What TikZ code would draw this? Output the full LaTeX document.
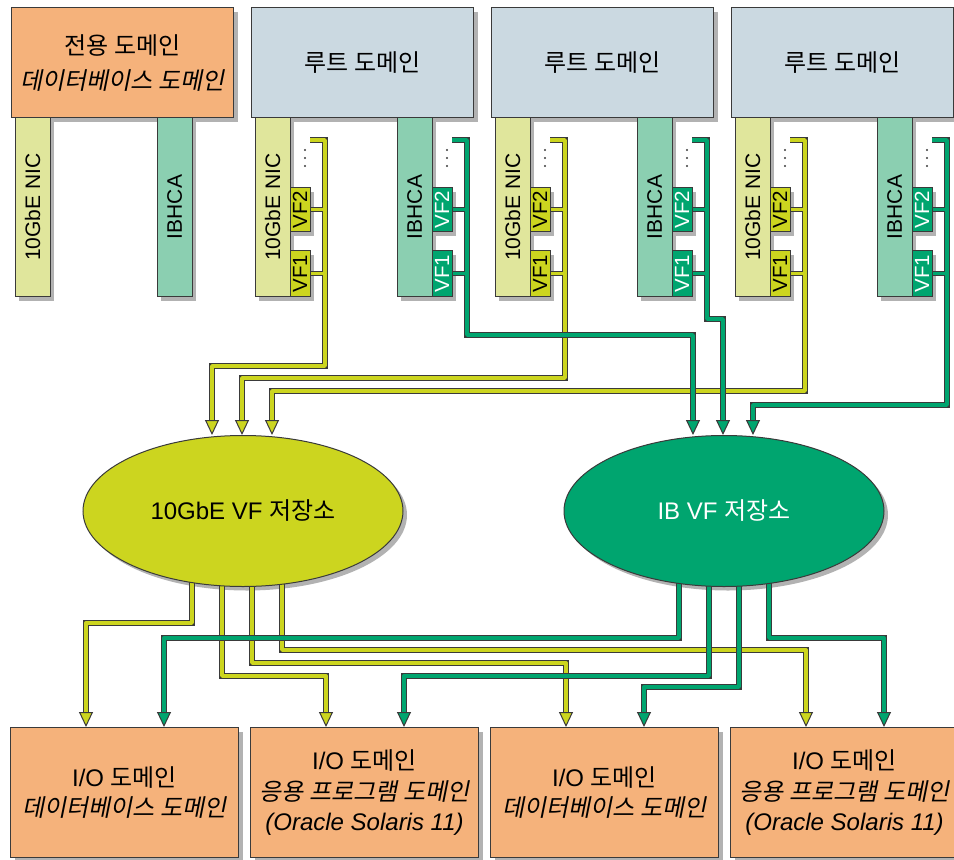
\documentclass[tikz,border=0pt]{standalone}
\usepackage{fontspec}
\setmainfont{Liberation Sans}
\newfontfamily\kr{Noto Sans CJK KR}
\newfontfamily\krit[FakeSlant=0.2]{Noto Sans CJK KR}
\usepackage{graphicx}
\usetikzlibrary{
  calc, % Koordinatenrechnung
  shapes.geometric, % Ellipsen
  shadows, % Schatten
  arrows.meta % Pfeilspitzen
}

\definecolor{domorange}{HTML}{F5B27B}
\definecolor{rootblue}{HTML}{CBD9E1}
\definecolor{nicpale}{HTML}{E0E69C}
\definecolor{ibpale}{HTML}{8BCFB1}
\definecolor{nicvf}{HTML}{CCD51F}
\definecolor{ibvf}{HTML}{00A56F}
\definecolor{rahmen}{HTML}{3A3A3A}

% Beschriftungen der I/O-Domaenen
\newcommand{\iodb}{I/O {\kr 도메인}\\{\krit 데이터베이스 도메인}}
\newcommand{\ioapp}{I/O {\kr 도메인}\\{\krit 응용 프로그램 도메인}\\{\itshape (Oracle Solaris 11)}}

\begin{document}
\begin{tikzpicture}[
    x=1pt, y=-1pt, % Pixelraster, y nach unten
    schatten/.style={drop shadow={shadow xshift=4pt, shadow yshift=-4pt, fill=black!30, opacity=1}},
    kasten/.style={draw=rahmen, line width=1.1pt, fill=#1, inner sep=0pt, anchor=north west, schatten},
    karte/.style={minimum width=35pt, minimum height=179pt, font=\fontsize{21}{24}\selectfont},
    vfbox/.style={minimum width=20pt, font=\fontsize{20.5}{24}\selectfont},
    pool/.style={ellipse, draw=rahmen, line width=1pt, fill=#1, minimum width=320pt, minimum height=151pt, inner sep=0pt, font=\fontsize{24}{28}\selectfont},
    ast/.style={draw=#1, line width=3.4pt, line join=round, preaction={draw=rahmen, line width=5.8pt, shorten >=2pt}},
    zug/.style={draw=#1, line width=3.4pt, line join=round,
      preaction={draw=rahmen, line width=5.8pt, arrows=-, shorten >=9pt},
      -{Triangle[length=15pt, width=14pt, line width=1pt, color=rahmen, fill=#1]}},
  ]

    \useasboundingbox (0,0) rectangle (954,860);

    % Dedizierte Domaene
    \node[kasten=domorange, minimum width=222pt, minimum height=110pt, align=center,
      font=\fontsize{24}{35}\selectfont] (dom1) at (11,7)
      {{\kr 전용 도메인}\\{\krit 데이터베이스 도메인}};

    % Root-Domaenen
    \foreach \k in {2,3,4} {
      \pgfmathsetmacro{\xo}{11+240*(\k-1)}
      \node[kasten=rootblue, minimum width=222pt, minimum height=110pt,
        font=\kr\fontsize{24}{28}\selectfont] (dom\k) at (\xo,7) {루트 도메인};
    }

    % Karten
    \foreach \k in {1,...,4} {
      \pgfmathsetmacro{\xo}{11+240*(\k-1)}
      \node[kasten=nicpale, karte] (nic\k) at (\xo+3.5,117) {\rotatebox{90}{10GbE NIC}};
      \node[kasten=ibpale, karte] (ib\k) at (\xo+145.5,117) {\rotatebox{90}{IBHCA}};
    }

    % VFs und Sammelleitungen
    \foreach \k in {2,3,4} {
      \pgfmathsetmacro{\xo}{11+240*(\k-1)}
      \node[kasten=nicvf, vfbox, minimum height=44pt] (nvfb\k) at (\xo+38.5,187) {\rotatebox{90}{VF2}};
      \node[kasten=nicvf, vfbox, minimum height=46pt] (nvfa\k) at (\xo+38.5,250) {\rotatebox{90}{VF1}};
      \node[kasten=ibvf, vfbox, text=white, minimum height=44pt] (ivfb\k) at (\xo+180.5,187) {\rotatebox{90}{VF2}};
      \node[kasten=ibvf, vfbox, text=white, minimum height=46pt] (ivfa\k) at (\xo+180.5,250) {\rotatebox{90}{VF1}};
      \foreach \d in {0,8,16} {
        \fill[rahmen] (\xo+54,150+\d) circle (1.2);
        \fill[rahmen] (\xo+196,150+\d) circle (1.2);
      }
      \coordinate (nsl\k) at (\xo+59,140);
      \coordinate (nbus\k) at (\xo+74,140);
      \coordinate (isl\k) at (\xo+201,140);
      \coordinate (ibus\k) at (\xo+216,140);
    }

    % I/O-Domaenen
    \foreach \k/\txt in {1/\iodb, 2/\ioapp, 3/\iodb, 4/\ioapp}
    \node[kasten=domorange, minimum width=228pt, minimum height=130pt, align=center,
      font=\fontsize{24}{30.5}\selectfont] (io\k) at (10+240*\k-240,727) {\txt};

    % Pools: Schatten und Leitungen nach unten
    \coordinate (pool1) at (243,511);
    \coordinate (pool2) at (724,511);
    \foreach \p in {pool1, pool2}
    \fill[black!30] ($(\p)+(4,4)$) ellipse [x radius=160, y radius=75.5];

    \foreach \sx/\dy/\k in {-51/112/1, -21/165/2, 9/152/3, 39/139/4}
    \draw[zug=nicvf] ($(pool1)+(\sx,0)$) -- ++(0,\dy) -| ($(io\k.north west)+(76,0)$);
    \foreach \sx/\dy/\k in {-45/127/1, -15/165/2, 15/176/3, 45/127/4}
    \draw[zug=ibvf] ($(pool2)+(\sx,0)$) -- ++(0,\dy) -| ($(io\k.north west)+(154,0)$);

    \node[pool=nicvf] (ell1) at (pool1) {\raisebox{-4pt}{10GbE VF {\kr 저장소}}};
    \node[pool=ibvf, text=white] (ell2) at (pool2) {\raisebox{-4pt}{IB VF {\kr 저장소}}};

    % Sammelleitungen zu den Pools
    \foreach \k/\dy/\dx in {2/226/-31, 3/238/-1, 4/251/29}
    \draw[zug=nicvf] (nsl\k) -- (nbus\k) -- ++(0,\dy) -| ($(ell1.north)+(\dx,0)$);
    \foreach \k/\dy/\dx in {2/195/-31, 3/179/-1, 4/265/29}
    \draw[zug=ibvf] (isl\k) -- (ibus\k) -- ++(0,\dy) -| ($(ell2.north)+(\dx,0)$);

    % Abzweige der VFs
    \foreach \k in {2,3,4} {
      \foreach \v in {nvfb, nvfa}
      \draw[ast=nicvf] (\v\k.east) -- (\v\k.east -| nbus\k);
      \foreach \v in {ivfb, ivfa}
      \draw[ast=ibvf] (\v\k.east) -- (\v\k.east -| ibus\k);
    }

  \end{tikzpicture}
\end{document}
